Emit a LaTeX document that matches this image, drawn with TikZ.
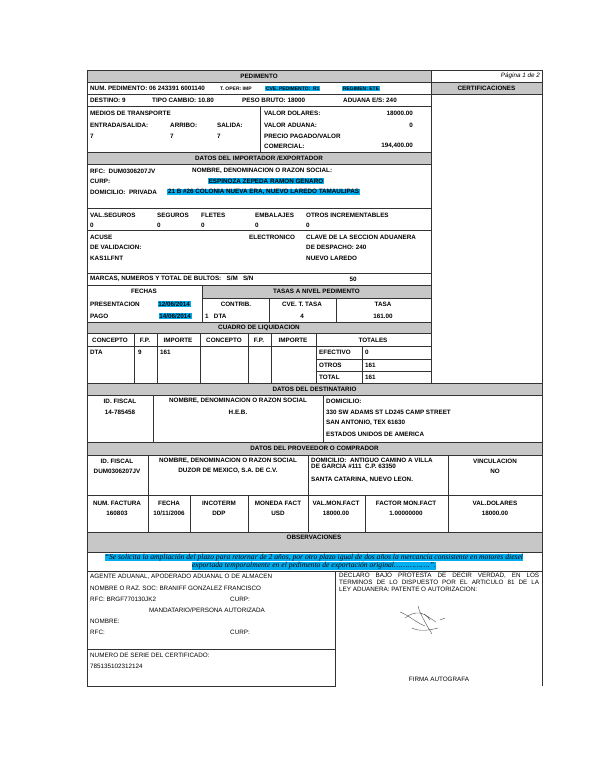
\documentclass[tikz,border=0pt]{standalone}
\usepackage{fontspec}
\setmainfont{Liberation Sans}
\newfontfamily\serf{Liberation Serif}
\newcounter{nn}
\tikzset{
 t/.style={anchor=west,inner sep=0pt,font=\bfseries\fontsize{6.3}{6.5}\selectfont},
 r/.style={anchor=west,inner sep=0pt,font=\fontsize{6.3}{6.5}\selectfont},
 c/.style={anchor=center},
 hl/.style={fill=cyan,inner sep=0.8pt},
 ln/.style={line width=0.8pt,draw=black!80},
 hd/.style={fill=black!22,line width=0.8pt,draw=black!80}
}
\newcommand\T[3][]{\stepcounter{nn}\node[t,#1] (n\arabic{nn}) at (#2) {#3};}
\newcommand\R[3][]{\stepcounter{nn}\node[r,#1] (n\arabic{nn}) at (#2) {#3};}
\newcommand\HD[5]{\draw[hd] (#1,#2) rectangle (#3,#4); \T[c]{{(#1+#3)/2},{(#2+#4)/2}}{#5}}
\newcommand\B[4]{\draw[ln] (#1,#2) rectangle (#3,#4);}
\begin{document}
\begin{tikzpicture}[x=1pt,y=-1pt]
\useasboundingbox[fill=white] (0,0) rectangle (600,776);
% top
\HD{87}{70}{431}{82}{PEDIMENTO}
\B{431}{70}{542}{82}
\R[anchor=east,font=\itshape\fontsize{6.3}{6.5}\selectfont]{540,76}{Página 1 de 2}
\B{87}{82}{431}{94}
\T{90,88}{NUM. PEDIMENTO: 06 243391 6001140}
\T[font=\bfseries\fontsize{5}{5.5}\selectfont]{220,88.5}{T. OPER: IMP}
\T[hl,font=\bfseries\fontsize{5}{5.5}\selectfont]{265,88.5}{CVE. PEDIMENTO:\ \ R1}
\T[hl,font=\bfseries\fontsize{5}{5.5}\selectfont]{342,88.5}{REGIMEN: ETE}
\HD{431}{82}{542}{94}{CERTIFICACIONES}
\B{431}{94}{542}{383}
\B{87}{94}{431}{106}
\T{90,100}{DESTINO: 9}\T{152,100}{TIPO CAMBIO: 10.80}\T{242,100}{PESO BRUTO: 18000}\T{343,100}{ADUANA E/S: 240}
\B{87}{106}{260}{152}\B{260}{106}{431}{152}
\T{90,113}{MEDIOS DE TRANSPORTE}
\T{90,125}{ENTRADA/SALIDA:}\T{170,125}{ARRIBO:}\T{217,125}{SALIDA:}
\T{90,136}{7}\T{170,136}{7}\T{217,136}{7}
\T{264,113}{VALOR DOLARES:}\T[anchor=east]{413,113}{18000.00}
\T{264,125}{VALOR ADUANA:}\T[anchor=east]{413,125}{0}
\T{264,136}{PRECIO PAGADO/VALOR}
\T{264,146}{COMERCIAL:}\T[anchor=east]{413,146}{194,400.00}
\HD{87}{152}{431}{164}{DATOS DEL IMPORTADOR /EXPORTADOR}
\B{87}{164}{431}{208}
\T{90,171}{RFC:\ \ DUM0306207JV}\T{192,171}{NOMBRE, DENOMINACION O RAZON SOCIAL:}
\T{90,181}{CURP:}\T[hl,c]{266,181}{ESPINOZA ZEPEDA RAMON GENARO}
\T{90,192}{DOMICILIO:\ \ PRIVADA}\T[hl]{167,192}{21 B \#26 COLONIA NUEVA ERA, NUEVO LAREDO TAMAULIPAS}
\B{87}{208}{431}{230}
\T{90,215}{VAL.SEGUROS}\T{157,215}{SEGUROS}\T{201,215}{FLETES}\T{255,215}{EMBALAJES}\T{306,215}{OTROS INCREMENTABLES}
\T{90,225}{0}\T{157,225}{0}\T{201,225}{0}\T{255,225}{0}\T{306,225}{0}
\B{87}{230}{431}{273}
\T{90,237}{ACUSE}\T{249,237}{ELECTRONICO}\T{306,237}{CLAVE DE LA SECCION ADUANERA}
\T{90,247}{DE VALIDACION:}\T{306,247}{DE DESPACHO: 240}
\T{90,258}{KAS1LFNT}\T{306,258}{NUEVO LAREDO}
\B{87}{273}{431}{285}
\T{90,279}{MARCAS, NUMEROS Y TOTAL DE BULTOS:\ \ \ S/M\ \ \ S/N}\T[c]{353,279}{50}
\B{87}{285}{202}{322}
\T[c]{144,291}{FECHAS}
\T{90,304}{PRESENTACION}\T[hl,anchor=east]{191,304}{12/06/2014}
\T{90,316}{PAGO}\T[hl,anchor=east]{192,316}{14/06/2014}
\HD{202}{285}{431}{298}{TASAS A NIVEL PEDIMENTO}
\B{202}{298}{269}{322}\B{269}{298}{336}{322}\B{336}{298}{431}{322}
\T[c]{236,304}{CONTRIB.}\T[c]{302,304}{CVE. T. TASA}\T[c]{383,304}{TASA}
\T{205,316}{1\ \ \ DTA}\T[c]{302,316}{4}\T[c]{383,316}{161.00}
\HD{87}{322}{431}{333}{CUADRO DE LIQUIDACION}
\foreach \a/\b in {87/134,134/157,157/200,200/248,248/271,271/316}{\B{\a}{333}{\b}{383}\draw[ln](\a,346)--(\b,346);}
\B{316}{333}{431}{346}\B{316}{346}{362}{359}\B{362}{346}{431}{359}\B{316}{359}{362}{371}\B{362}{359}{431}{371}\B{316}{371}{362}{383}\B{362}{371}{431}{383}
\T[c]{110,340}{CONCEPTO}\T[c]{145,340}{F.P.}\T[c]{178,340}{IMPORTE}\T[c]{224,340}{CONCEPTO}\T[c]{259,340}{F.P.}\T[c]{293,340}{IMPORTE}\T[c]{373,340}{TOTALES}
\T{90,352}{DTA}\T{138,352}{9}\T{160,352}{161}
\T{319,352}{EFECTIVO}\T{365,352}{0}\T{319,365}{OTROS}\T{365,365}{161}\T{319,377}{TOTAL}\T{365,377}{161}
\HD{87}{383}{542}{395}{DATOS DEL DESTINATARIO}
\B{87}{395}{153}{442}\B{153}{395}{323}{442}\B{323}{395}{542}{442}
\T[c]{120,401}{ID. FISCAL}\T[c]{120,412}{14-785458}
\T[c]{238,401}{NOMBRE, DENOMINACION O RAZON SOCIAL}\T[c]{238,412}{H.E.B.}
\T{326,401}{DOMICILIO:}\T{326,412}{330 SW ADAMS ST LD245 CAMP STREET}\T{326,423}{SAN ANTONIO, TEX 61630}\T{326,434}{ESTADOS UNIDOS DE AMERICA}
\HD{87}{442}{542}{455}{DATOS DEL PROVEEDOR O COMPRADOR}
\B{87}{455}{148}{495}\B{148}{455}{308}{495}\B{308}{455}{448}{495}\B{448}{455}{542}{495}
\T[c]{117,461}{ID. FISCAL}\T[c]{117,471}{DUM0306207JV}
\T[c]{228,461}{NOMBRE, DENOMINACION O RAZON SOCIAL}\T[c]{228,471}{DUZOR DE MEXICO, S.A. DE C.V.}
\T{311,460}{DOMICILIO:\ \ ANTIGUO CAMINO A VILLA}\T{311,466.5}{DE GARCIA \#111\ \ C.P. 63350}\T{311,480}{SANTA CATARINA, NUEVO LEON.}
\T[c]{495,461}{VINCULACION}\T[c]{495,471}{NO}
\foreach \a/\b in {87/148,148/190,190/248,248/308,308/365,365/448,448/542}{\B{\a}{495}{\b}{532}}
\T[c]{117,503}{NUM. FACTURA}\T[c]{117,513}{160803}
\T[c]{169,503}{FECHA}\T[c]{169,513}{10/11/2006}
\T[c]{219,503}{INCOTERM}\T[c]{219,513}{DDP}
\T[c]{278,503}{MONEDA FACT}\T[c]{278,513}{USD}
\T[c]{336,503}{VAL.MON.FACT}\T[c]{336,513}{18000.00}
\T[c]{406,503}{FACTOR MON.FACT}\T[c]{406,513}{1.00000000}
\T[c]{495,503}{VAL.DOLARES}\T[c]{495,513}{18000.00}
\draw[hd] (87,532) rectangle (542,552); \T[c]{314,537}{OBSERVACIONES}
\B{87}{552}{542}{571}
\T[c,hl,font=\serf\itshape\fontsize{7.6}{8}\selectfont,inner sep=0.3pt]{314,557.5}{“Se solicita la ampliación del plazo para retornar de 2 años, por otro plazo igual de dos años la mercancía consistente en motores diesel}
\T[c,hl,font=\serf\itshape\fontsize{7.6}{8}\selectfont,inner sep=0.3pt]{314,566}{exportada temporalmente en el pedimento de exportación original…………….”.}
\B{87}{571}{335}{649}\B{87}{649}{335}{686}
\draw[ln] (335,571)--(542,571)--(542,686);
\R{90,577}{AGENTE ADUANAL, APODERADO ADUANAL O DE ALMACEN}
\R{90,588}{NOMBRE O RAZ. SOC: BRANIFF GONZALEZ FRANCISCO}
\R{90,599}{RFC: BRGF770130JK2}\R{230,599}{CURP:}
\R[c]{207,610}{MANDATARIO/PERSONA AUTORIZADA}
\R{90,621}{NOMBRE:}
\R{90,632}{RFC:}\R{230,632}{CURP:}
\R{90,655}{NUMERO DE SERIE DEL CERTIFICADO:}
\R{90,666}{785135102312124}
\R{339,576}{\makebox[200pt][s]{DECLARO BAJO PROTESTA DE DECIR VERDAD, EN LOS}}
\R{339,582.5}{\makebox[200pt][s]{TERMINOS DE LO DISPUESTO POR EL ARTICULO 81 DE LA}}
\R{339,589}{LEY ADUANERA: PATENTE O AUTORIZACION:}
\R[c]{439,679}{FIRMA AUTOGRAFA}
\draw[black!70,line width=0.4pt] (400,612) .. controls (410,616) and (415,622) .. (425,626) (405,618) .. controls (415,610) and (425,612) .. (430,620) (418,606) .. controls (420,614) and (426,624) .. (432,634) (412,628) .. controls (420,632) and (430,630) .. (438,628) (424,614) -- (436,622) (440,620)--(445,618);
\end{tikzpicture}
\end{document}
